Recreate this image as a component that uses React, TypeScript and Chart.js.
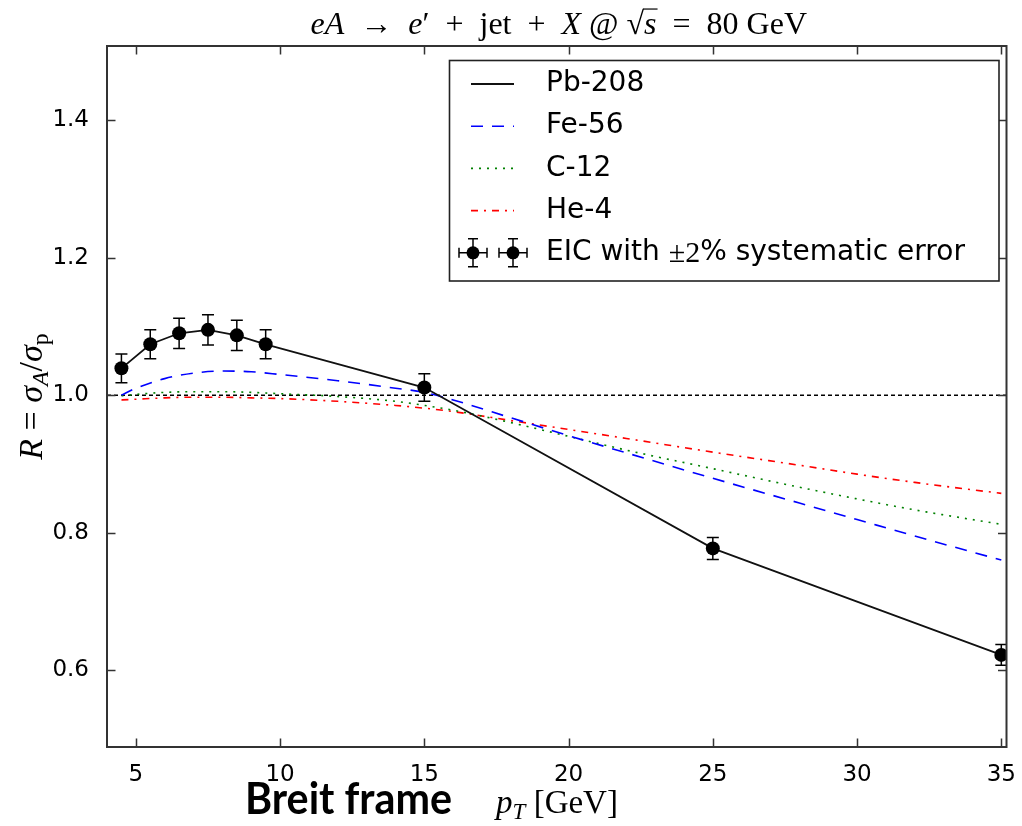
import React, { useEffect, useRef } from "react";
import { Chart, registerables } from "chart.js";

Chart.register(...registerables);

// ---------- data ----------
const eicX = [4.5, 5.5, 6.5, 7.5, 8.5, 9.5, 15, 25, 35];
const pb208 = [1.039, 1.074, 1.09, 1.095, 1.087, 1.074, 1.011, 0.777, 0.622];
const eicErr = [0.021, 0.021, 0.022, 0.022, 0.022, 0.021, 0.02, 0.016, 0.015];

const curveX = [4.5, 5, 6, 7, 8, 9, 10, 12, 14, 15, 16, 18, 20, 22, 25, 28, 30, 32, 35];
const fe56 = [1.0, 1.01, 1.024, 1.032, 1.035, 1.034, 1.03, 1.021, 1.01, 1.004, 0.993, 0.967, 0.941, 0.916, 0.879, 0.843, 0.819, 0.795, 0.76];
const c12 = [0.999, 1.001, 1.004, 1.005, 1.005, 1.004, 1.002, 0.998, 0.991, 0.985, 0.978, 0.96, 0.94, 0.92, 0.893, 0.866, 0.849, 0.833, 0.812];
const he4 = [0.993, 0.994, 0.996, 0.997, 0.997, 0.996, 0.995, 0.991, 0.985, 0.981, 0.976, 0.963, 0.95, 0.937, 0.917, 0.898, 0.885, 0.873, 0.857];

const xTicks = [5, 10, 15, 20, 25, 30, 35];
const yTicks = [0.6, 0.8, 1.0, 1.2, 1.4];
const xRange = [4, 35.18];
const yRange = [0.488, 1.508];
const refValue = 1.0;

const seriesLabels = ["Pb-208", "Fe-56", "C-12", "He-4"];
const eicLabel = ["EIC with ", "±2", "% systematic error"];

// ---------- helpers ----------
type Seg = { t: string; it?: boolean; sub?: boolean; over?: boolean };
const MATH = '"Liberation Serif", "DejaVu Serif", serif';

function segFont(s: Seg, size: number) {
  const sz = s.sub ? size * 0.7 : size;
  return `${s.it ? "italic " : ""}${sz}px ${MATH}`;
}
function segsWidth(ctx: CanvasRenderingContext2D, segs: Seg[], size: number) {
  let w = 0;
  for (const s of segs) {
    ctx.font = segFont(s, size);
    w += ctx.measureText(s.t).width;
  }
  return w;
}
function drawSegs(ctx: CanvasRenderingContext2D, segs: Seg[], cx: number, baseline: number, size: number) {
  const total = segsWidth(ctx, segs, size);
  let x = cx - total / 2;
  ctx.textAlign = "left";
  ctx.textBaseline = "alphabetic";
  for (const s of segs) {
    ctx.font = segFont(s, size);
    const w = ctx.measureText(s.t).width;
    const y = s.sub ? baseline + size * 0.18 : baseline;
    ctx.fillText(s.t, x, y);
    if (s.over) {
      ctx.save();
      ctx.lineWidth = 1.2;
      ctx.beginPath();
      ctx.moveTo(x - 1, baseline - size * 0.78);
      ctx.lineTo(x + w + 1, baseline - size * 0.78);
      ctx.stroke();
      ctx.restore();
    }
    x += w;
  }
}

const titleSegs: Seg[] = [
  { t: "eA", it: true },
  { t: "  →  " },
  { t: "e", it: true },
  { t: "′  +  jet  +  " },
  { t: "X", it: true },
  { t: " @ √" },
  { t: "s", it: true, over: true },
  { t: "  =  80 GeV" },
];
const yLabelSegs: Seg[] = [
  { t: "R", it: true },
  { t: " = " },
  { t: "σ", it: true },
  { t: "A", it: true, sub: true },
  { t: "/" },
  { t: "σ", it: true },
  { t: "p", sub: true },
];
const xLabelSegs: Seg[] = [
  { t: "p", it: true },
  { t: "T", it: true, sub: true },
  { t: " [GeV]" },
];

// ---------- plugins ----------
const refLinePlugin = {
  id: "refLine",
  beforeDatasetsDraw(chart: any) {
    const { ctx, chartArea, scales } = chart;
    const py = scales.y.getPixelForValue(refValue);
    ctx.save();
    ctx.strokeStyle = "#000";
    ctx.lineWidth = 1.5;
    ctx.setLineDash([4, 3]);
    ctx.beginPath();
    ctx.moveTo(chartArea.left, py);
    ctx.lineTo(chartArea.right, py);
    ctx.stroke();
    ctx.restore();
  },
};

const errorBarPlugin = {
  id: "errorBars",
  afterDatasetsDraw(chart: any) {
    const { ctx, chartArea, scales } = chart;
    ctx.save();
    ctx.beginPath();
    ctx.rect(chartArea.left, chartArea.top, chartArea.right - chartArea.left, chartArea.bottom - chartArea.top);
    ctx.clip();
    ctx.strokeStyle = "#000";
    ctx.lineWidth = 1.5;
    const cap = 6;
    eicX.forEach((xv, i) => {
      const px = scales.x.getPixelForValue(xv);
      const t = scales.y.getPixelForValue(pb208[i] + eicErr[i]);
      const b = scales.y.getPixelForValue(pb208[i] - eicErr[i]);
      ctx.beginPath();
      ctx.moveTo(px, t);
      ctx.lineTo(px, b);
      ctx.moveTo(px - cap, t);
      ctx.lineTo(px + cap, t);
      ctx.moveTo(px - cap, b);
      ctx.lineTo(px + cap, b);
      ctx.stroke();
    });
    ctx.restore();
  },
};

const framePlugin = {
  id: "frame",
  afterDatasetsDraw(chart: any) {
    const { ctx, chartArea: a, scales } = chart;
    ctx.save();
    ctx.strokeStyle = "#333";
    ctx.lineWidth = 1.5;
    const tl = 8.5;
    ctx.beginPath();
    xTicks.forEach((v) => {
      const px = Math.round(scales.x.getPixelForValue(v)) + 0.5;
      ctx.moveTo(px, a.bottom);
      ctx.lineTo(px, a.bottom - tl);
      ctx.moveTo(px, a.top);
      ctx.lineTo(px, a.top + tl);
    });
    yTicks.forEach((v) => {
      const py = Math.round(scales.y.getPixelForValue(v)) + 0.5;
      ctx.moveTo(a.left, py);
      ctx.lineTo(a.left + tl, py);
      ctx.moveTo(a.right, py);
      ctx.lineTo(a.right - tl, py);
    });
    ctx.stroke();
    ctx.lineWidth = 2;
    ctx.strokeRect(a.left, a.top, a.right - a.left, a.bottom - a.top);
    ctx.restore();
  },
};

const legendPlugin = {
  id: "customLegend",
  afterDraw(chart: any) {
    const { ctx } = chart;
    const box = { l: 449.5, t: 60.5, r: 999, b: 281 };
    ctx.save();
    ctx.fillStyle = "#fff";
    ctx.fillRect(box.l, box.t, box.r - box.l, box.b - box.t);
    ctx.strokeStyle = "#222";
    ctx.lineWidth = 1.6;
    ctx.strokeRect(box.l, box.t, box.r - box.l, box.b - box.t);
    const rowY0 = 84;
    const rowH = 42.2;
    const sx0 = 471;
    const sx1 = 514;
    const tx = 546;
    const font = '28px "DejaVu Sans", sans-serif';
    const ds = chart.data.datasets;
    seriesLabels.forEach((lab, i) => {
      const d = ds[i + 1];
      const y = rowY0 + i * rowH;
      ctx.save();
      ctx.strokeStyle = d.borderColor;
      ctx.lineWidth = d.borderWidth;
      ctx.setLineDash(d.borderDash || []);
      ctx.beginPath();
      ctx.moveTo(sx0, y);
      ctx.lineTo(sx1, y);
      ctx.stroke();
      ctx.restore();
      ctx.fillStyle = "#000";
      ctx.font = font;
      ctx.textAlign = "left";
      ctx.textBaseline = "middle";
      ctx.fillText(lab, tx, y);
    });
    // EIC entry
    const y = rowY0 + 4 * rowH;
    [473, 513].forEach((mx) => {
      ctx.strokeStyle = "#000";
      ctx.lineWidth = 1.5;
      const e = 14;
      const c = 5;
      ctx.beginPath();
      ctx.moveTo(mx - e, y);
      ctx.lineTo(mx + e, y);
      ctx.moveTo(mx, y - e);
      ctx.lineTo(mx, y + e);
      ctx.moveTo(mx - c, y - e);
      ctx.lineTo(mx + c, y - e);
      ctx.moveTo(mx - c, y + e);
      ctx.lineTo(mx + c, y + e);
      ctx.moveTo(mx - e, y - c);
      ctx.lineTo(mx - e, y + c);
      ctx.moveTo(mx + e, y - c);
      ctx.lineTo(mx + e, y + c);
      ctx.stroke();
      ctx.fillStyle = "#000";
      ctx.beginPath();
      ctx.arc(mx, y, 6.5, 0, Math.PI * 2);
      ctx.fill();
    });
    ctx.fillStyle = "#000";
    ctx.textBaseline = "middle";
    ctx.textAlign = "left";
    let x = tx;
    ctx.font = font;
    ctx.fillText(eicLabel[0], x, y);
    x += ctx.measureText(eicLabel[0]).width;
    ctx.font = `30px ${MATH}`;
    ctx.fillText(eicLabel[1], x, y + 1);
    x += ctx.measureText(eicLabel[1]).width;
    ctx.font = font;
    ctx.fillText(eicLabel[2], x, y);
    ctx.restore();
  },
};

const textPlugin = {
  id: "texts",
  afterDraw(chart: any) {
    const { ctx, chartArea: a } = chart;
    ctx.save();
    ctx.fillStyle = "#000";
    ctx.strokeStyle = "#000";
    // title
    drawSegs(ctx, titleSegs, (a.left + a.right) / 2 + 2, 34, 32);
    // x label
    drawSegs(ctx, xLabelSegs, 557, 813, 33);
    // y label (rotated)
    ctx.save();
    ctx.translate(42, (a.top + a.bottom) / 2);
    ctx.rotate(-Math.PI / 2);
    drawSegs(ctx, yLabelSegs, 0, 0, 34);
    ctx.restore();
    // Breit frame annotation
    ctx.font = 'bold 43px Lato, "Open Sans", sans-serif';
    ctx.textAlign = "left";
    ctx.textBaseline = "alphabetic";
    const txt = "Breit frame";
    const w = ctx.measureText(txt).width;
    const target = 207;
    ctx.save();
    ctx.translate(245, 814);
    ctx.scale(target / w, 1);
    ctx.fillText(txt, 0, 0);
    ctx.restore();
    ctx.restore();
  },
};

// ---------- component ----------
export default function App() {
  const ref = useRef<HTMLCanvasElement | null>(null);

  useEffect(() => {
    if (!ref.current) return;
    const pts = (xs: number[], ys: number[]) => xs.map((x, i) => ({ x, y: ys[i] }));
    const chart = new Chart(ref.current, {
      type: "line",
      data: {
        datasets: [
          {
            label: "EIC",
            data: pts(eicX, pb208),
            showLine: false,
            pointRadius: 7,
            pointHoverRadius: 7,
            pointBackgroundColor: "#000",
            pointBorderColor: "#000",
            pointBorderWidth: 0,
            borderColor: "#000",
            clip: 0,
          } as any,
          {
            label: seriesLabels[0],
            data: pts(eicX, pb208),
            borderColor: "#111",
            borderWidth: 1.8,
            pointRadius: 0,
            tension: 0,
            clip: 0,
          } as any,
          {
            label: seriesLabels[1],
            data: pts(curveX, fe56),
            borderColor: "#0000ff",
            borderWidth: 1.6,
            borderDash: [12, 9],
            pointRadius: 0,
            cubicInterpolationMode: "monotone",
            clip: 0,
          } as any,
          {
            label: seriesLabels[2],
            data: pts(curveX, c12),
            borderColor: "#008000",
            borderWidth: 1.6,
            borderDash: [2, 6],
            pointRadius: 0,
            cubicInterpolationMode: "monotone",
            clip: 0,
          } as any,
          {
            label: seriesLabels[3],
            data: pts(curveX, he4),
            borderColor: "#ff0000",
            borderWidth: 1.6,
            borderDash: [7, 6, 2, 6],
            pointRadius: 0,
            cubicInterpolationMode: "monotone",
            clip: 0,
          } as any,
        ],
      },
      options: {
        responsive: false,
        animation: false,
        devicePixelRatio: 1,
        layout: { padding: { top: 46, right: 10, left: 0, bottom: 0 } },
        plugins: {
          legend: { display: false },
          title: { display: false },
          tooltip: { enabled: false },
        },
        events: [],
        scales: {
          x: {
            type: "linear",
            min: xRange[0],
            max: xRange[1],
            afterBuildTicks: (s: any) => {
              s.ticks = xTicks.map((v) => ({ value: v }));
            },
            afterFit: (s: any) => {
              s.height = 79;
            },
            ticks: {
              font: { family: '"DejaVu Sans", sans-serif', size: 23 },
              color: "#000",
              padding: 6,
              maxRotation: 0,
              autoSkip: false,
              callback: (v: any) => String(v),
            },
            grid: { display: false },
            border: { display: false },
          },
          y: {
            type: "linear",
            min: yRange[0],
            max: yRange[1],
            afterBuildTicks: (s: any) => {
              s.ticks = yTicks.map((v) => ({ value: v }));
            },
            afterFit: (s: any) => {
              s.width = 107;
            },
            ticks: {
              font: { family: '"DejaVu Sans", sans-serif', size: 23 },
              color: "#000",
              padding: 10,
              autoSkip: false,
              callback: (v: any) => Number(v).toFixed(1),
            },
            grid: { display: false },
            border: { display: false },
          },
        },
      } as any,
      plugins: [refLinePlugin, errorBarPlugin, framePlugin, legendPlugin, textPlugin],
    });
    return () => chart.destroy();
  }, []);

  return (
    <div style={{ position: "absolute", left: 0, top: 0, width: 1022, height: 826, background: "#fff" }}>
      <canvas ref={ref} width={1022} height={826} style={{ display: "block" }} />
    </div>
  );
}
